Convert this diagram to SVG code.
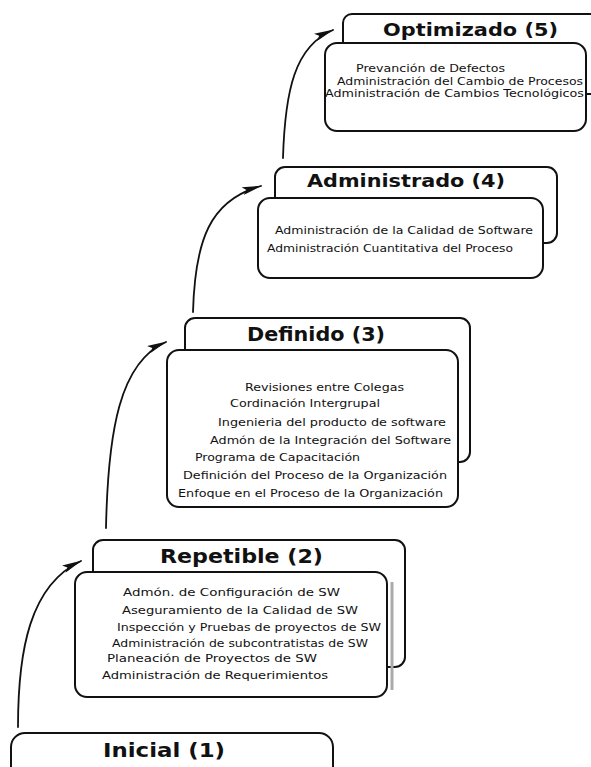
<svg xmlns="http://www.w3.org/2000/svg" width="591" height="767" viewBox="0 0 591 767">
  <style>
    .back { fill: #fff; stroke: #111; stroke-width: 2; }
    .front { fill: #fff; stroke: #111; stroke-width: 2; }
    .title { font-family: "DejaVu Sans", Verdana, sans-serif; font-weight: bold; fill: #111; }
    .item { font-family: "DejaVu Sans", Verdana, sans-serif; font-size: 10.5px; fill: #111; }
    .conn { fill: none; stroke: #111; stroke-width: 1.8; stroke-linecap: round; }
  </style>
  <defs>
    <marker id="head" viewBox="0 0 20 8" refX="19" refY="4" markerWidth="20" markerHeight="8" markerUnits="userSpaceOnUse" orient="auto">
      <path d="M0,0 L20,4 L0,8 L4,4 Z" fill="#111"/>
    </marker>
  </defs>
  <rect width="591" height="767" fill="#fff"/>

  <!-- connectors between maturity levels -->
  <g id="connectors">
    <path class="conn" d="M18,727 C18,650 30,585 81,561" marker-end="url(#head)"/>
    <path class="conn" d="M106,528 C108,430 120,362 166,342" marker-end="url(#head)"/>
    <path class="conn" d="M193,312 C195,240 210,200 261,186" marker-end="url(#head)"/>
    <path class="conn" d="M283,158 C285,90 295,46 333,30" marker-end="url(#head)"/>
  </g>

  <!-- level 5 -->
  <g id="optimizado">
    <rect class="back" x="343" y="14" width="262" height="80" rx="9"/>
    <text class="title" x="383" y="36" font-size="18" textLength="175" lengthAdjust="spacingAndGlyphs">Optimizado (5)</text>
    <rect class="front" x="325" y="43" width="261" height="88" rx="12"/>
    <text class="item" x="356" y="72" textLength="149" lengthAdjust="spacingAndGlyphs">Prevanción de Defectos</text>
    <text class="item" x="337" y="85" textLength="246" lengthAdjust="spacingAndGlyphs">Administración del Cambio de Procesos</text>
    <text class="item" x="325" y="97" textLength="259" lengthAdjust="spacingAndGlyphs">Administración de Cambios Tecnológicos</text>
  </g>

  <!-- level 4 -->
  <g id="administrado">
    <rect class="back" x="275" y="167" width="282" height="76" rx="10"/>
    <text class="title" x="307" y="187" font-size="18" textLength="198" lengthAdjust="spacingAndGlyphs">Administrado (4)</text>
    <rect class="front" x="258" y="198" width="285" height="80" rx="12"/>
    <text class="item" x="275" y="234" textLength="258" lengthAdjust="spacingAndGlyphs">Administración de  la Calidad de Software</text>
    <text class="item" x="267" y="252" textLength="246" lengthAdjust="spacingAndGlyphs">Administración Cuantitativa del Proceso</text>
  </g>

  <!-- level 3 -->
  <g id="definido">
    <rect class="back" x="185" y="318" width="285" height="144" rx="10"/>
    <text class="title" x="247" y="341" font-size="19" textLength="138" lengthAdjust="spacingAndGlyphs">Definido (3)</text>
    <rect class="front" x="167" y="350" width="291" height="157" rx="12"/>
    <text class="item" x="245" y="391" textLength="159" lengthAdjust="spacingAndGlyphs">Revisiones entre Colegas</text>
    <text class="item" x="230" y="407" textLength="150" lengthAdjust="spacingAndGlyphs">Cordinación Intergrupal</text>
    <text class="item" x="218" y="426" textLength="228" lengthAdjust="spacingAndGlyphs">Ingenieria del producto de  software</text>
    <text class="item" x="210" y="444" textLength="241" lengthAdjust="spacingAndGlyphs">Admón de la Integración del  Software</text>
    <text class="item" x="195" y="461" textLength="165" lengthAdjust="spacingAndGlyphs">Programa de Capacitación</text>
    <text class="item" x="183" y="479" textLength="264" lengthAdjust="spacingAndGlyphs">Definición del Proceso de la Organización</text>
    <text class="item" x="178" y="497" textLength="265" lengthAdjust="spacingAndGlyphs">Enfoque en el Proceso de la Organización</text>
  </g>

  <!-- level 2 -->
  <g id="repetible">
    <rect class="back" x="93" y="540" width="312" height="127" rx="10"/>
    <text class="title" x="160" y="563" font-size="20" textLength="163" lengthAdjust="spacingAndGlyphs">Repetible (2)</text>
    <line x1="392" y1="582" x2="392" y2="690" stroke="#aaa" stroke-width="3"/>
    <rect class="front" x="75" y="572" width="312" height="125" rx="12"/>
    <text class="item" x="123" y="596" textLength="217" lengthAdjust="spacingAndGlyphs">Admón. de Configuración de SW</text>
    <text class="item" x="122" y="614" textLength="236" lengthAdjust="spacingAndGlyphs">Aseguramiento de la Calidad de SW</text>
    <text class="item" x="117" y="631" textLength="264" lengthAdjust="spacingAndGlyphs">Inspección y Pruebas de proyectos de SW</text>
    <text class="item" x="112" y="647" textLength="256" lengthAdjust="spacingAndGlyphs">Administración de subcontratistas de SW</text>
    <text class="item" x="107" y="662" textLength="210" lengthAdjust="spacingAndGlyphs">Planeación de Proyectos de SW</text>
    <text class="item" x="102" y="679" textLength="226" lengthAdjust="spacingAndGlyphs">Administración de Requerimientos</text>
  </g>

  <!-- level 1 -->
  <g id="inicial">
    <rect class="back" x="11" y="733" width="322" height="50" rx="14"/>
    <text class="title" x="103" y="757" font-size="19" textLength="122" lengthAdjust="spacingAndGlyphs">Inicial (1)</text>
  </g>
</svg>
